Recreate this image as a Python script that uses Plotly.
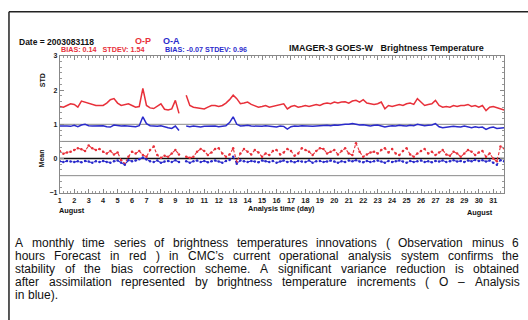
import plotly.graph_objects as go

W, H = 528, 320

# ---------------- data ----------------
DAYS = list(range(1, 32))
HOURS = [0, 6, 12, 18]
TIME = [d + h / 24 for d in DAYS for h in HOURS]

# STD O-P (red), 4 analyses per day
STD_OP = [
    1.52, 1.50, 1.55, 1.60,  1.58, 1.50, 1.68, 1.65,  1.60, 1.58, 1.55, 1.55,
    1.55, 1.62, 1.72, 1.75,  1.62, 1.55, 1.58, 1.60,  1.55, 1.50, 1.52, 2.05,
    1.55, 1.48, 1.46, 1.52,  1.60, 1.44, 1.42, 1.45,  1.70, 1.32, None, 1.85,
    1.55, 1.50, 1.48, 1.45,  1.45, 1.50, 1.55, 1.55,  1.52, 1.55, 1.62, 1.72,
    1.85, 1.75, 1.60, 1.62,  1.65, 1.58, 1.55, 1.50,  1.52, 1.55, 1.50, 1.52,
    1.55, 1.58, 1.60, 1.45,  1.52, 1.55, 1.50, 1.52,  1.55, 1.52, 1.55, 1.58,
    1.55, 1.60, 1.62, 1.60,  1.65, 1.62, 1.65, 1.66,  1.62, 1.68, 1.70, 1.65,
    1.72, 1.62, 1.60, 1.58,  1.60, 1.65, 1.45, 1.55,  1.52, 1.55, 1.58, 1.55,
    1.60, 1.62, 1.58, 1.75,  1.65, 1.55, 1.58, 1.60,  1.70, 1.55, 1.50, 1.52,
    1.50, 1.55, 1.52, 1.55,  1.55, 1.58, 1.52, 1.55,  1.50, 1.55, 1.40, 1.50,
    1.52, 1.48, 1.45, 1.42,
]
# STD O-A (blue)
STD_OA = [
    0.95, 0.96, 0.95, 0.94,  0.97, 0.93, 0.98, 1.00,  0.96, 0.95, 0.95, 0.94,
    0.96, 0.93, 0.92, 0.98,  0.96, 0.95, 0.96, 0.95,  0.94, 0.93, 0.96, 1.22,
    1.02, 0.96, 0.95, 0.94,  0.96, 0.92, 0.90, 0.88,  0.95, 0.82, None, 0.95,
    0.93, 0.95, 0.94, 0.92,  0.94, 0.95, 0.96, 0.95,  0.93, 0.94, 0.96, 1.05,
    1.22, 1.00, 0.95, 0.96,  0.97, 0.95, 0.94, 0.95,  0.94, 0.96, 0.95, 0.93,
    0.92, 0.95, 0.94, 0.86,  0.93, 0.95, 0.94, 0.96,  0.95, 0.93, 0.94, 0.95,
    0.96, 0.95, 0.97, 0.96,  0.98, 0.97, 0.99, 1.00,  1.00, 1.02, 1.00, 0.98,
    0.99, 0.96, 0.95, 0.97,  0.98, 0.95, 0.92, 0.94,  0.96, 0.95, 0.97, 0.96,
    0.95, 0.97, 0.96, 1.00,  0.98, 0.96, 0.97, 0.98,  1.02, 0.93, 0.90, 0.92,
    0.92, 0.94, 0.93, 0.92,  0.95, 0.93, 0.90, 0.93,  0.91, 0.92, 0.85, 0.90,
    0.92, 0.88, 0.90, 0.90,
]
# Mean O-P (red, dashed)
MEAN_OP = [
    0.22, 0.14, 0.18, 0.20,  0.25, 0.30, 0.27, 0.22,  0.38, 0.30, 0.25, 0.28,
    0.20, 0.15, 0.22, 0.12,  0.18, -0.05, -0.15, 0.05,  0.20, 0.15, 0.22, 0.10,
    0.05, 0.25, 0.35, 0.10,  0.02, 0.08, 0.05, 0.15,  0.25, 0.12, None, 0.05,
    0.02, 0.05, 0.20, 0.28,  0.22, 0.10, 0.18, 0.28,  0.30, 0.15, 0.05, 0.12,
    0.30, -0.10, 0.15, 0.28,  0.20, 0.12, 0.25, 0.18,  0.05, 0.15, 0.10, 0.22,
    0.25, 0.12, 0.18, 0.28,  0.22, 0.08, 0.15, 0.30,  0.25, 0.20, 0.10, 0.22,
    0.30, 0.28, 0.15, 0.20,  0.25, 0.12, 0.22, 0.30,  0.15, 0.10, 0.45, 0.20,
    0.05, 0.12, 0.18, 0.20,  0.15, 0.25, 0.30, 0.18,  0.28, 0.15, 0.10, 0.22,
    0.30, 0.12, 0.05, 0.15,  0.22, 0.28, 0.15, 0.20,  0.10, 0.18, 0.25, 0.12,
    0.08, 0.20, 0.15, 0.05,  0.15, 0.25, 0.20, 0.10,  0.18, 0.22, 0.05, 0.15,
    0.00, -0.08, 0.35, 0.30,
]
# Mean O-A (blue, dashed)
MEAN_OA = [
    -0.08, -0.10, -0.07, -0.09,  -0.10, -0.08, -0.11, -0.07,  -0.09, -0.12, -0.08, -0.10,
    -0.07, -0.10, -0.12, -0.08,  -0.06, -0.12, -0.18, -0.05,  -0.08, -0.06, -0.02, 0.03,
    -0.03, -0.08, -0.10, -0.06,  -0.12, -0.09, -0.07, -0.10,  -0.05, -0.10, None, -0.08,
    -0.12, -0.08, -0.06, -0.10,  -0.07, -0.11, -0.08, -0.06,  -0.09, -0.12, -0.07, -0.04,
    0.05, -0.15, -0.06, -0.08,  -0.10, -0.07, -0.09, -0.11,  -0.06, -0.08, -0.10, -0.07,
    -0.12, -0.09, -0.06, -0.10,  -0.08, -0.11, -0.07, -0.09,  -0.10, -0.06, -0.12, -0.08,
    -0.07, -0.10, -0.09, -0.06,  -0.09, -0.12, -0.08, -0.10,  -0.06, -0.08, -0.05, -0.09,
    -0.11, -0.07, -0.10, -0.08,  -0.06, -0.09, -0.12, -0.07,  -0.10, -0.08, -0.06, -0.09,
    -0.12, -0.07, -0.10, -0.08,  -0.06, -0.10, -0.08, -0.11,  -0.07, -0.09, -0.06, -0.10,
    -0.08, -0.05, -0.09, -0.07,  -0.10, -0.06, -0.08, -0.04,  -0.07, -0.05, -0.09, -0.06,
    -0.12, -0.18, -0.05, -0.08,
]
Y_TICKS = [-1, 0, 1, 2, 3]
GRAY_LEVELS = [1, 0.5, -0.5]
ZERO_LEVEL = 0

CAPTION = [
    "A monthly time series of brightness temperatures innovations ( Observation minus 6",
    "hours Forecast in red ) in CMC\u2019s current operational analysis system confirms the",
    "stability of the bias correction scheme. A significant variance reduction is obtained",
    "after assimilation represented by brightness temperature increments ( O \u2013 Analysis",
    "in blue).",
]

RED = "#e8303a"
BLUE = "#2b2bcc"

def px(x):
    return x / W

def py(y):
    return 1 - y / H

fig = go.Figure()
fig.add_trace(go.Scatter(x=TIME, y=STD_OP, mode="lines", line=dict(color=RED, width=1.5),
                         connectgaps=False))
fig.add_trace(go.Scatter(x=TIME, y=STD_OA, mode="lines", line=dict(color=BLUE, width=1.5),
                         connectgaps=False))
fig.add_trace(go.Scatter(x=TIME, y=MEAN_OP, mode="lines+markers",
                         line=dict(color=RED, width=1.1, dash="3px,2px"),
                         marker=dict(size=2.5, color=RED), connectgaps=False))
fig.add_trace(go.Scatter(x=TIME, y=MEAN_OA, mode="lines+markers",
                         line=dict(color=BLUE, width=1.1, dash="3px,2px"),
                         marker=dict(size=2.5, color=BLUE), connectgaps=False))

shapes = []
for lv in GRAY_LEVELS:
    shapes.append(dict(type="line", xref="x domain", yref="y", x0=0, x1=1, y0=lv, y1=lv,
                       line=dict(color="#8a8a8a", width=1), layer="below"))
shapes.append(dict(type="line", xref="x domain", yref="y", x0=0, x1=1, y0=ZERO_LEVEL,
                   y1=ZERO_LEVEL, line=dict(color="#111111", width=1.6), layer="below"))
# outer document box
shapes.append(dict(type="line", xref="paper", yref="paper", x0=px(7), x1=1.02, y0=py(8), y1=py(8),
                   line=dict(color="#222222", width=1.5)))
shapes.append(dict(type="line", xref="paper", yref="paper", x0=px(7), x1=px(7), y0=py(8), y1=-0.02,
                   line=dict(color="#222222", width=1.5)))

ann = []
def text(x, y, s, size, color="#111111", bold=True, xanchor="left", angle=0, family="Liberation Sans"):
    ann.append(dict(x=px(x), y=py(y), xref="paper", yref="paper", text=s, showarrow=False,
                    xanchor=xanchor, yanchor="middle", textangle=angle,
                    font=dict(size=size, color=color, family=family,
                              weight="bold" if bold else "normal")))

text(15, 39, "Date = 2003083118", 8.5)
text(142, 37.5, "O-P", 9, RED, xanchor="center")
text(170, 37.5, "O-A", 9, BLUE, xanchor="center")
text(57, 46.5, "BIAS: 0.14\u00a0\u00a0 STDEV: 1.54", 7.2, RED)
text(162, 46.5, "BIAS: -0.07 STDEV: 0.96", 7.2, BLUE)
text(286, 45, "IMAGER-3 GOES-W\u00a0\u00a0 Brightness Temperature", 9)
text(40, 78, "STD", 7, angle=-90, xanchor="center")
text(40, 158, "Mean", 7, angle=-90, xanchor="center")
text(281, 209.5, "Analysis time (day)", 7.3, xanchor="center")
text(70, 211.5, "August", 7.3, xanchor="center")
text(480, 213, "August", 7.3, xanchor="center")

# justified caption using Arial (Liberation Sans) metrics
AW = {" ": 278, "(": 333, ")": 333, ".": 278, ",": 278, "\u2019": 222, "\u2013": 556, "-": 333}
for c in "0123456789":
    AW[c] = 556
AW.update(dict(zip("ABCDEFGHIJKLMNOPQRSTUVWXYZ",
                   [667, 667, 722, 722, 667, 611, 778, 722, 278, 500, 667, 556, 833, 722, 778,
                    667, 778, 722, 667, 611, 722, 667, 944, 667, 667, 611])))
AW.update(dict(zip("abcdefghijklmnopqrstuvwxyz",
                   [556, 556, 500, 556, 556, 278, 556, 556, 222, 222, 500, 222, 833, 556, 556,
                    556, 556, 333, 500, 278, 556, 500, 722, 500, 500, 500])))
CFS = 12
CX0, CX1 = 12, 518
CY0, CDY = 244, 13.5
for i, line in enumerate(CAPTION):
    yy = CY0 + i * CDY
    words = line.split(" ")
    widths = [sum(AW.get(c, 556) for c in w) * CFS / 1000 for w in words]
    if i < len(CAPTION) - 1 and len(words) > 1:
        gap = (CX1 - CX0 - sum(widths)) / (len(words) - 1)
    else:
        gap = 278 * CFS / 1000
    xx = CX0
    for w, wd in zip(words, widths):
        ann.append(dict(x=px(xx), y=py(yy), xref="paper", yref="paper", text=w, showarrow=False,
                        xanchor="left", yanchor="middle", borderpad=0,
                        font=dict(size=CFS, color="#111111", family="Liberation Sans")))
        xx += wd + gap

fig.update_layout(
    width=W, height=H, margin=dict(l=0, r=0, t=0, b=0),
    paper_bgcolor="white", plot_bgcolor="white", showlegend=False,
    shapes=shapes, annotations=ann,
    font=dict(family="Liberation Sans", color="#222222"),
    xaxis=dict(domain=[px(58), px(504)], range=[1, 31.75], tickmode="array", tickvals=DAYS,
               ticks="inside", ticklen=4, tickcolor="#888888", showline=True, linecolor="#888888",
               linewidth=1, mirror="allticks", showgrid=False, zeroline=False,
               tickfont=dict(size=7.3, color="#222222", weight="bold"),
               minor=dict(dtick=0.25, tick0=1, ticks="inside", ticklen=2, tickcolor="#999999",
                          showgrid=False)),
    yaxis=dict(domain=[py(193), py(53)], range=[-1, 3], tickmode="array", tickvals=Y_TICKS,
               ticks="inside", ticklen=4, tickcolor="#888888", showline=True, linecolor="#888888",
               linewidth=1, mirror="allticks", showgrid=False, zeroline=False,
               tickfont=dict(size=7, color="#222222", weight="bold"),
               minor=dict(dtick=1 / 6, tick0=0, ticks="inside", ticklen=2, tickcolor="#999999",
                          showgrid=False)),
)

fig.write_html("out.html")
